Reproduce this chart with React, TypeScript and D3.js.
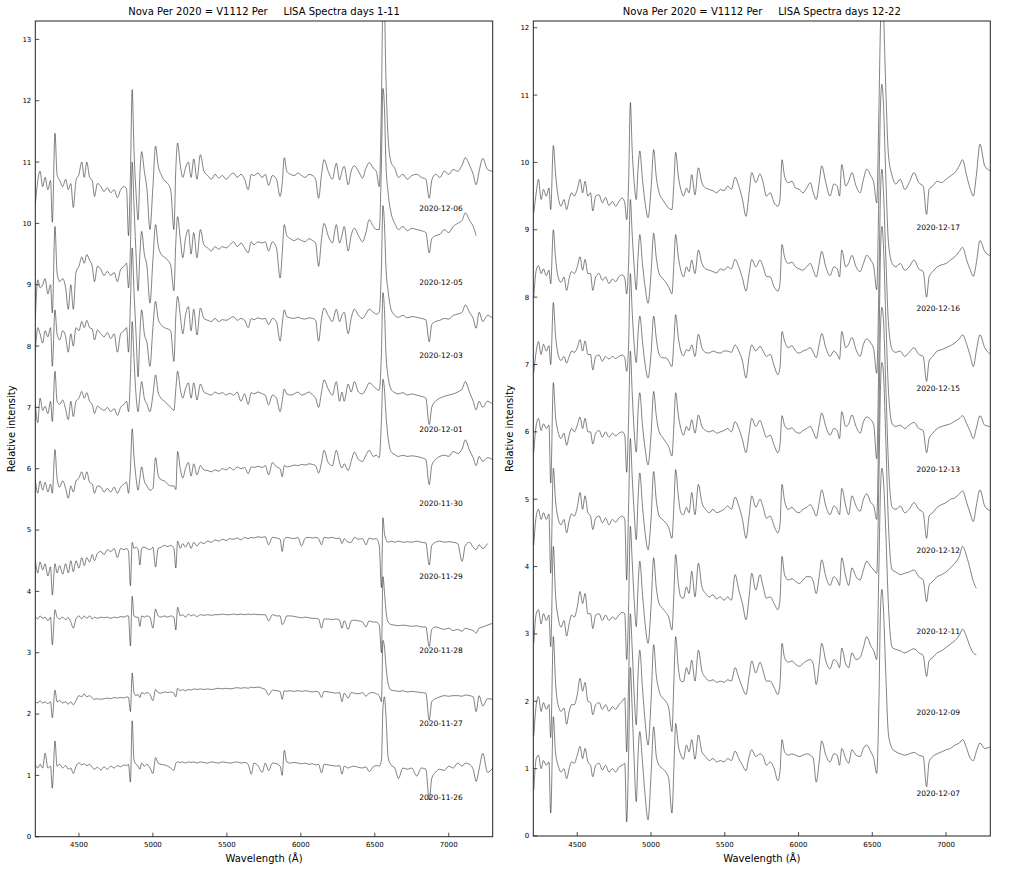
import React from 'react';
import * as d3 from 'd3';

// common wavelength grid (Angstrom) for every spectrum
const wavelength = [
  4205,4222,4237,4255,4271,4290,4308,4320,4338,4352,
  4370,4390,4410,4428,4445,4462,4480,4500,4519,4536,
  4553,4572,4590,4605,4625,4648,4670,4692,4715,4738,
  4760,4782,4805,4822,4835,4848,4860,4872,4886,4900,
  4912,4924,4942,4960,4980,5000,5018,5035,5055,5078,
  5100,5120,5142,5155,5167,5185,5202,5220,5240,5258,
  5276,5298,5321,5345,5370,5395,5420,5445,5470,5495,
  5520,5545,5570,5595,5620,5644,5665,5683,5710,5739,
  5760,5782,5808,5835,5860,5874,5888,5905,5930,5955,
  5980,6005,6030,6055,6080,6100,6120,6140,6157,6185,
  6213,6240,6262,6278,6293,6320,6340,6362,6390,6417,
  6440,6462,6490,6510,6530,6545,6555,6565,6575,6590,
  6610,6635,6660,6690,6720,6750,6783,6815,6845,6868,
  6885,6910,6940,6970,7000,7030,7060,7090,7112,7140,
  7165,7185,7205,7230,7262,7297,
];

// ---- days 1-11 ----
const nov26 = [
  1.17,1.12,1.18,1.12,1.36,1.12,1.15,0.79,1.56,1.15,
  1.18,1.12,1.16,1.1,1.12,1.03,1.15,1.2,1.17,1.19,
  1.16,1.18,1.13,1.1,1.13,1.09,1.14,1.1,1.15,1.12,
  1.16,1.14,1.17,1.16,1.18,0.89,1.89,1.25,1.18,1.15,
  1.1,1.2,1.15,1.18,1.12,1.03,1.29,1.2,1.18,1.17,
  1.15,1.12,1.08,1.2,1.22,1.21,1.22,1.2,1.22,1.21,
  1.22,1.2,1.22,1.21,1.2,1.22,1.21,1.2,1.22,1.21,
  1.2,1.21,1.22,1.2,1.21,1.18,1.02,1.2,1.16,1.05,
  1.2,1.08,1.2,1.19,1.15,1.0,1.41,1.22,1.2,1.21,
  1.2,1.19,1.2,1.18,1.19,1.17,1.18,1.04,1.18,1.17,
  1.16,1.15,1.16,1.02,1.15,1.12,1.14,1.15,1.13,1.12,
  1.14,1.06,1.14,1.16,1.15,1.25,2.1,2.28,1.99,1.3,
  1.17,1.12,0.95,1.12,1.1,1.12,0.99,1.12,1.1,0.6,
  0.95,1.05,1.1,1.08,1.15,1.12,1.2,1.15,1.2,1.18,
  1.1,0.9,1.1,1.36,1.05,1.12,
];
const nov27 = [
  2.2,2.18,2.22,2.18,2.2,2.17,2.2,1.94,2.39,2.2,
  2.22,2.18,2.2,2.16,2.2,2.15,2.22,2.3,2.28,2.33,
  2.28,2.3,2.26,2.24,2.25,2.24,2.25,2.26,2.25,2.27,
  2.26,2.27,2.26,2.28,2.27,2.04,2.67,2.35,2.3,2.32,
  2.27,2.35,2.33,2.35,2.32,2.22,2.4,2.35,2.34,2.36,
  2.35,2.36,2.34,2.28,2.42,2.38,2.4,2.38,2.4,2.39,
  2.41,2.4,2.41,2.4,2.41,2.4,2.41,2.42,2.41,2.42,
  2.41,2.42,2.43,2.42,2.43,2.42,2.44,2.43,2.44,2.42,
  2.4,2.31,2.39,2.38,2.37,2.24,2.38,2.37,2.38,2.37,
  2.38,2.37,2.38,2.37,2.36,2.37,2.36,2.27,2.37,2.36,
  2.35,2.34,2.35,2.2,2.34,2.26,2.35,2.34,2.33,2.35,
  2.29,2.34,2.35,2.33,2.3,2.2,3.2,3.1,2.8,2.5,
  2.39,2.38,2.37,2.38,2.36,2.37,2.36,2.35,2.34,1.9,
  2.2,2.25,2.28,2.3,2.29,2.3,2.3,2.29,2.31,2.3,
  2.28,2.04,2.3,2.13,2.25,2.24,
];
const nov28 = [
  3.59,3.55,3.6,3.56,3.58,3.52,3.58,3.13,3.7,3.58,
  3.55,3.58,3.54,3.57,3.5,3.4,3.55,3.6,3.55,3.6,
  3.56,3.6,3.55,3.58,3.56,3.58,3.57,3.58,3.56,3.58,
  3.57,3.59,3.58,3.6,3.6,3.11,3.92,3.6,3.58,3.58,
  3.43,3.6,3.58,3.6,3.58,3.4,3.71,3.6,3.58,3.6,
  3.58,3.6,3.58,3.37,3.74,3.6,3.62,3.58,3.63,3.6,
  3.62,3.59,3.62,3.61,3.62,3.61,3.62,3.62,3.63,3.62,
  3.62,3.63,3.62,3.63,3.62,3.63,3.62,3.63,3.62,3.62,
  3.62,3.52,3.62,3.6,3.6,3.46,3.5,3.6,3.6,3.59,
  3.58,3.57,3.58,3.57,3.56,3.56,3.55,3.4,3.55,3.55,
  3.54,3.55,3.53,3.4,3.52,3.38,3.52,3.53,3.52,3.5,
  3.42,3.52,3.5,3.5,3.45,3.0,4.24,4.0,3.7,3.5,
  3.46,3.45,3.44,3.45,3.44,3.43,3.44,3.42,3.42,3.1,
  3.38,3.42,3.4,3.38,3.4,3.36,3.38,3.35,3.4,3.38,
  3.36,3.32,3.4,3.42,3.45,3.48,
];
const nov29 = [
  4.51,4.3,4.48,4.35,4.45,4.25,4.4,3.94,4.45,4.3,
  4.42,4.28,4.45,4.3,4.5,4.32,4.5,4.38,4.55,4.42,
  4.55,4.48,4.6,4.5,4.62,4.65,4.6,4.68,4.65,4.7,
  4.55,4.7,4.68,4.7,4.65,4.09,4.8,4.7,4.72,4.68,
  4.43,4.7,4.72,4.7,4.68,4.72,4.4,4.7,4.72,4.75,
  4.73,4.75,4.7,4.38,4.82,4.7,4.78,4.72,4.8,4.7,
  4.8,4.74,4.8,4.78,4.82,4.8,4.84,4.82,4.85,4.83,
  4.86,4.85,4.87,4.84,4.88,4.86,4.88,4.87,4.89,4.88,
  4.89,4.76,4.88,4.87,4.85,4.65,4.85,4.88,4.87,4.86,
  4.88,4.74,4.87,4.88,4.87,4.88,4.86,4.76,4.88,4.87,
  4.88,4.86,4.87,4.78,4.86,4.8,4.8,4.88,4.85,4.86,
  4.76,4.87,4.85,4.86,4.75,4.06,5.2,4.95,4.85,4.8,
  4.82,4.8,4.82,4.8,4.81,4.8,4.82,4.8,4.79,4.43,
  4.75,4.8,4.82,4.8,4.81,4.8,4.78,4.49,4.75,4.8,
  4.72,4.68,4.76,4.7,4.78,null,
];
const nov30 = [
  5.82,5.6,5.8,5.65,5.78,5.62,5.75,5.6,6.31,5.85,
  5.7,5.8,5.68,5.52,5.72,5.62,5.8,5.85,5.95,5.82,
  5.95,5.78,5.75,5.6,5.72,5.7,5.62,5.68,5.62,5.7,
  5.6,5.7,5.75,5.78,5.6,6.0,6.65,6.2,5.85,5.65,
  5.85,6.03,5.8,5.72,5.65,5.68,6.18,5.9,5.82,5.8,
  5.75,5.72,5.72,5.66,6.28,6.0,5.85,6.0,6.1,5.88,
  6.08,5.9,6.05,5.98,5.97,5.95,5.98,5.96,6.0,5.98,
  6.02,5.98,6.03,6.0,6.02,5.92,6.03,6.02,6.04,6.02,
  6.05,5.9,6.1,6.03,6.0,5.87,6.05,6.03,6.04,6.06,
  6.05,6.07,6.06,6.08,6.07,6.05,5.93,6.1,6.3,6.1,
  6.05,6.3,6.1,6.01,6.08,5.97,6.12,6.27,6.15,6.12,
  6.22,6.3,6.2,6.22,6.18,6.8,7.46,7.3,6.9,6.5,
  6.28,6.23,6.2,6.22,6.2,6.21,6.2,6.18,6.15,5.74,
  6.05,6.15,6.2,6.22,6.2,6.28,6.25,6.32,6.47,6.3,
  6.18,6.05,6.2,6.12,6.18,6.15,
];
const dec01 = [
  7.07,6.75,7.15,6.95,7.02,6.9,7.1,6.77,7.59,7.1,
  7.05,7.12,6.97,6.8,7.1,6.85,7.1,7.15,7.26,7.15,
  7.24,7.1,7.05,6.9,7.02,6.98,6.95,7.0,6.93,6.98,
  6.87,7.0,7.05,7.1,6.93,7.5,8.4,7.8,7.2,6.93,
  7.2,7.42,7.15,7.05,6.93,7.2,7.53,7.25,7.15,7.1,
  7.05,7.0,6.95,7.3,7.59,7.3,7.15,7.3,7.4,7.15,
  7.4,7.12,7.38,7.25,7.22,7.2,7.25,7.22,7.24,7.2,
  7.23,7.2,7.25,7.1,7.22,7.05,7.24,7.22,7.25,7.22,
  7.2,7.04,7.2,7.15,6.93,7.1,7.3,7.22,7.2,7.22,
  7.25,7.2,7.22,7.25,7.2,7.15,7.0,7.25,7.45,7.3,
  7.2,7.42,7.1,7.25,7.1,7.38,7.25,7.42,7.25,7.22,
  7.3,7.4,7.35,7.3,7.28,7.9,8.87,8.6,7.9,7.5,
  7.3,7.24,7.22,7.24,7.2,7.22,7.2,7.18,7.15,6.72,
  7.0,7.1,7.15,7.18,7.2,7.22,7.25,7.3,7.42,7.25,
  7.1,6.96,7.1,7.0,7.1,7.05,
];
const dec03 = [
  7.89,8.3,8.2,8.05,8.25,8.15,8.3,7.67,8.59,8.2,
  8.1,8.25,8.15,7.9,8.2,8.0,8.3,8.25,8.4,8.3,
  8.42,8.3,8.28,8.1,8.26,8.2,8.15,8.22,8.12,8.2,
  7.9,8.2,8.25,8.3,7.9,8.7,9.6,8.9,8.2,7.5,
  8.2,8.59,8.2,8.05,7.67,8.3,8.73,8.45,8.35,8.3,
  8.28,8.25,7.75,8.5,8.81,8.5,8.2,8.5,8.64,8.25,
  8.6,8.18,8.62,8.45,8.42,8.4,8.45,8.4,8.43,8.42,
  8.45,8.48,8.42,8.45,8.42,8.3,8.45,8.43,8.46,8.44,
  8.45,8.35,8.45,8.4,8.08,8.35,8.59,8.48,8.46,8.45,
  8.47,8.45,8.44,8.46,8.45,8.42,8.08,8.45,8.62,8.5,
  8.4,8.6,8.4,8.5,8.55,8.2,8.45,8.6,8.5,8.45,
  8.52,8.6,8.55,8.52,8.55,9.3,10.29,10.0,9.3,8.9,
  8.6,8.5,8.47,8.5,8.46,8.48,8.47,8.45,8.43,8.07,
  8.35,8.4,8.42,8.45,8.44,8.5,8.52,8.55,8.67,8.55,
  8.45,8.29,8.55,8.4,8.5,8.45,
];
const dec05 = [
  8.43,9.08,8.95,9.0,9.1,8.85,9.0,8.54,9.95,9.2,
  9.05,9.1,8.95,8.6,9.0,8.6,9.2,9.3,9.45,9.35,
  9.49,9.4,9.3,9.05,9.3,9.25,9.15,9.22,9.15,9.2,
  9.05,9.25,9.3,9.35,8.95,9.6,11.0,10.3,9.5,8.9,
  9.5,9.87,9.5,9.3,8.7,9.4,9.98,9.65,9.5,9.45,
  9.4,9.32,8.9,9.7,10.11,9.75,9.44,9.75,9.9,9.5,
  9.85,9.44,9.9,9.65,9.6,9.55,9.62,9.58,9.62,9.6,
  9.65,9.7,9.62,9.68,9.6,9.52,9.7,9.65,9.7,9.68,
  9.7,9.55,9.7,9.6,9.11,9.5,9.98,9.8,9.75,9.72,
  9.75,9.72,9.7,9.75,9.72,9.68,9.3,9.75,10.0,9.8,
  9.68,9.98,9.68,9.8,9.95,9.55,9.8,9.92,9.8,9.7,
  9.85,10.06,9.95,9.9,9.9,11.0,12.2,11.9,11.0,10.5,
  10.17,10.0,9.9,9.95,9.88,9.92,9.9,9.88,9.85,9.52,
  9.75,9.8,9.82,9.9,9.85,9.95,10.0,10.05,10.17,10.05,
  9.95,9.8,null,null,null,null,
];
const dec06 = [
  10.3,10.7,10.85,10.6,10.75,10.55,10.7,10.02,11.47,10.8,
  10.7,10.6,10.72,10.55,10.65,10.26,10.7,10.8,11.0,10.75,
  11.0,10.75,10.7,10.44,10.65,10.6,10.52,10.58,10.5,10.55,
  10.42,10.55,10.6,10.55,9.8,10.8,12.18,11.2,10.5,10.06,
  10.8,11.17,10.85,10.55,9.9,10.6,11.26,10.95,10.8,10.7,
  10.65,10.55,9.9,10.9,11.31,10.95,10.75,10.9,11.0,10.75,
  11.05,10.72,11.12,10.85,10.78,10.72,10.8,10.74,10.78,10.72,
  10.78,10.82,10.75,10.8,10.72,10.55,10.8,10.78,10.82,10.75,
  10.8,10.62,10.78,10.72,10.44,10.65,11.07,10.85,10.8,10.78,
  10.82,10.78,10.75,10.8,10.78,10.72,10.41,10.8,11.04,10.85,
  10.72,10.98,10.71,10.85,10.93,10.63,10.85,10.94,10.85,10.74,
  10.9,10.99,10.9,10.85,10.6,12.0,13.6,13.5,12.4,11.4,
  11.0,10.9,10.75,10.8,10.72,10.78,10.8,10.75,10.72,10.41,
  10.7,10.8,10.75,10.85,10.8,10.88,10.85,10.95,11.07,10.95,
  10.8,10.63,10.85,11.06,10.88,10.85,
];

// ---- days 12-22 ----
const dec07 = [
  0.68,1.15,1.2,1.0,1.12,1.05,1.1,0.34,1.77,1.25,
  1.05,0.95,1.0,0.85,1.0,1.1,1.08,1.2,1.33,1.15,
  1.3,1.1,1.05,0.88,1.05,1.08,0.98,1.05,0.95,1.0,
  0.95,1.02,1.05,1.08,0.21,1.2,2.5,1.9,1.1,0.51,
  1.2,1.55,1.1,0.6,0.24,0.9,1.62,1.2,1.05,1.0,
  0.95,0.85,0.34,1.0,1.67,1.35,1.2,1.14,1.35,1.25,
  1.43,1.14,1.5,1.25,1.18,1.12,1.15,1.1,1.12,1.1,
  1.15,1.12,1.26,1.15,1.05,0.97,1.18,1.28,1.18,1.22,
  1.18,1.05,1.1,1.0,0.82,0.95,1.43,1.25,1.2,1.22,
  1.2,1.18,1.2,1.22,1.2,1.15,0.8,1.1,1.41,1.2,
  1.1,1.22,1.2,1.05,1.3,1.15,1.08,1.28,1.2,1.18,
  1.3,1.35,1.25,1.15,0.93,2.0,3.3,3.66,3.4,2.5,
  1.5,1.3,1.25,1.22,1.2,1.22,1.24,1.2,1.18,0.73,
  1.1,1.18,1.22,1.25,1.28,1.3,1.35,1.38,1.43,1.3,
  1.15,1.12,1.25,1.38,1.3,1.32,
];
const dec09 = [
  1.48,1.95,2.07,1.85,1.98,1.88,1.95,1.46,2.96,2.3,
  1.95,1.85,1.9,1.66,1.85,1.95,1.95,2.1,2.34,2.15,
  2.28,2.0,1.98,1.8,1.95,1.98,1.88,1.95,1.85,1.92,
  1.88,1.95,2.0,2.05,1.25,2.3,3.3,2.8,2.1,1.65,
  2.4,2.76,2.2,1.7,1.35,2.0,2.84,2.4,2.15,2.05,
  2.0,1.9,1.55,2.3,2.96,2.5,2.3,2.29,2.5,2.4,
  2.61,2.3,2.76,2.45,2.35,2.3,2.32,2.28,2.3,2.28,
  2.32,2.3,2.5,2.35,2.2,2.1,2.38,2.6,2.42,2.58,
  2.45,2.3,2.3,2.2,2.1,2.25,2.86,2.65,2.58,2.6,
  2.55,2.52,2.56,2.6,2.62,2.55,2.25,2.55,2.86,2.6,
  2.48,2.62,2.58,2.5,2.79,2.55,2.5,2.72,2.62,2.65,
  2.8,2.96,2.82,2.75,2.62,4.0,5.1,5.46,5.3,4.6,
  3.4,2.8,2.77,2.75,2.72,2.75,2.78,2.72,2.68,2.37,
  2.6,2.65,2.72,2.75,2.8,2.85,2.9,2.98,3.07,2.95,
  2.8,2.72,2.69,null,null,null,
];
const dec11 = [
  2.86,3.3,3.36,3.15,3.3,3.2,3.28,2.81,4.3,3.6,
  3.25,3.1,3.2,2.97,3.15,3.28,3.25,3.4,3.63,3.45,
  3.6,3.3,3.3,3.08,3.28,3.3,3.2,3.28,3.2,3.25,
  3.22,3.28,3.32,3.3,2.62,3.4,4.6,4.1,3.5,3.11,
  3.7,4.08,3.6,3.15,2.86,3.4,4.13,3.7,3.45,3.38,
  3.32,3.25,3.06,3.6,4.18,3.75,3.55,3.53,3.7,3.6,
  3.93,3.55,4.05,3.7,3.6,3.55,3.58,3.52,3.55,3.5,
  3.55,3.5,3.88,3.65,3.45,3.21,3.55,3.9,3.65,3.88,
  3.7,3.53,3.55,3.45,3.36,3.5,4.15,3.88,3.8,3.82,
  3.78,3.75,3.8,3.85,3.85,3.78,3.6,3.85,4.1,3.85,
  3.72,3.85,3.8,3.72,4.13,3.85,3.72,3.98,3.85,3.8,
  3.95,4.08,4.0,3.95,3.9,5.3,6.6,7.03,6.9,6.0,
  4.6,3.95,3.92,3.88,3.9,3.92,3.95,3.85,3.8,3.48,
  3.72,3.78,3.85,3.88,3.92,3.98,4.05,4.15,4.3,4.15,
  3.95,3.78,3.68,null,null,null,
];
const dec12 = [
  4.32,4.75,4.85,4.7,4.8,4.7,4.78,3.9,5.46,5.0,
  4.72,4.62,4.7,4.5,4.68,4.78,4.75,4.88,5.1,4.85,
  5.05,4.8,4.75,4.55,4.72,4.75,4.65,4.72,4.62,4.7,
  4.66,4.72,4.75,4.7,3.8,4.9,5.9,5.35,4.8,4.4,
  5.0,5.39,4.9,4.5,4.25,4.7,5.41,5.0,4.75,4.7,
  4.65,4.58,4.42,4.9,5.44,5.05,4.8,4.77,4.88,4.8,
  5.1,4.77,5.22,4.95,4.85,4.8,4.85,4.8,4.82,4.85,
  4.9,4.85,5.03,4.9,4.7,4.42,4.75,5.05,4.88,5.0,
  4.88,4.72,4.75,4.6,4.5,4.62,5.22,4.98,4.85,4.88,
  4.82,4.8,4.85,4.88,4.92,4.85,4.75,4.95,5.14,4.9,
  4.77,4.9,4.85,4.77,5.16,4.9,4.77,5.05,4.9,4.82,
  5.0,5.08,4.95,4.9,4.7,6.2,7.5,7.85,7.7,6.8,
  5.5,4.88,4.85,4.9,4.8,4.85,4.95,4.85,4.8,4.42,
  4.75,4.8,4.88,4.92,4.95,5.0,5.02,5.08,5.12,4.95,
  4.78,4.67,4.9,5.14,4.9,4.83,
];
const dec13 = [
  5.69,6.1,6.2,6.02,6.12,6.05,6.1,5.24,6.73,6.25,
  6.0,5.9,5.98,5.8,5.95,6.05,6.0,6.1,6.22,6.05,
  6.2,6.0,6.0,5.82,5.98,6.02,5.92,6.0,5.92,5.98,
  5.94,5.98,6.0,5.95,5.4,6.2,7.2,6.6,6.0,5.7,
  6.3,6.58,6.1,5.75,5.51,5.95,6.6,6.25,6.0,5.92,
  5.85,5.78,5.64,6.1,6.58,6.25,6.05,5.95,6.08,6.02,
  6.18,5.98,6.25,6.08,6.02,6.0,6.02,5.98,6.0,6.02,
  6.05,6.0,6.15,6.05,5.88,5.69,5.98,6.2,6.08,6.17,
  6.05,5.92,5.95,5.8,5.69,5.8,6.24,6.1,6.04,6.06,
  6.0,5.98,6.02,6.05,6.08,6.0,5.9,6.1,6.28,6.08,
  5.95,6.05,6.02,5.9,6.3,6.08,6.12,6.25,6.08,5.98,
  6.15,6.22,6.18,6.1,5.6,7.2,8.6,9.05,8.8,7.8,
  6.6,6.12,6.08,6.1,6.05,6.1,6.14,6.05,6.02,5.69,
  5.9,5.98,6.05,6.08,6.1,6.12,6.16,6.2,6.24,6.12,
  6.0,5.9,6.05,6.24,6.1,6.08,
];
const dec15 = [
  6.88,7.2,7.34,7.15,7.3,7.2,7.28,7.0,7.92,7.45,
  7.15,7.06,7.12,7.02,7.12,7.2,7.18,7.25,7.37,7.2,
  7.35,7.15,7.15,6.92,7.12,7.14,7.05,7.12,7.08,7.12,
  7.09,7.12,7.14,7.1,6.9,7.3,8.35,7.8,7.3,7.03,
  7.45,7.72,7.35,7.0,6.8,7.15,7.72,7.4,7.15,7.1,
  7.1,7.05,6.97,7.35,7.74,7.4,7.2,7.13,7.22,7.2,
  7.29,7.12,7.45,7.25,7.18,7.17,7.2,7.18,7.17,7.2,
  7.2,7.18,7.29,7.2,7.05,6.8,7.12,7.29,7.2,7.27,
  7.2,7.12,7.15,6.98,6.85,6.95,7.49,7.35,7.25,7.28,
  7.2,7.17,7.2,7.22,7.25,7.18,7.1,7.3,7.46,7.25,
  7.12,7.2,7.15,7.08,7.49,7.25,7.3,7.4,7.22,7.12,
  7.3,7.38,7.32,7.22,6.87,8.2,9.5,9.9,9.6,8.7,
  7.6,7.22,7.18,7.2,7.12,7.18,7.25,7.15,7.12,6.75,
  7.05,7.12,7.2,7.22,7.25,7.28,7.32,7.38,7.44,7.3,
  7.12,6.97,7.2,7.44,7.25,7.16,
];
const dec16 = [
  8.0,8.4,8.47,8.35,8.42,8.32,8.4,8.2,9.0,8.6,
  8.3,8.22,8.3,8.1,8.28,8.38,8.35,8.45,8.6,8.4,
  8.56,8.35,8.35,8.1,8.3,8.35,8.25,8.3,8.2,8.27,
  8.23,8.3,8.33,8.28,8.05,8.5,9.45,8.95,8.45,8.11,
  8.6,8.93,8.5,8.15,7.91,8.35,8.95,8.6,8.35,8.28,
  8.22,8.15,8.05,8.5,8.93,8.6,8.4,8.3,8.45,8.38,
  8.55,8.35,8.7,8.5,8.42,8.4,8.38,8.36,8.42,8.4,
  8.45,8.42,8.56,8.45,8.28,8.09,8.35,8.56,8.45,8.55,
  8.45,8.31,8.3,8.15,8.09,8.2,8.78,8.6,8.5,8.52,
  8.45,8.42,8.4,8.45,8.5,8.4,8.3,8.5,8.68,8.45,
  8.32,8.45,8.42,8.3,8.7,8.45,8.5,8.62,8.45,8.38,
  8.5,8.62,8.55,8.45,8.11,9.6,10.8,11.16,10.9,9.9,
  8.8,8.5,8.45,8.5,8.4,8.45,8.55,8.42,8.38,8.0,
  8.3,8.38,8.45,8.48,8.5,8.55,8.6,8.68,8.74,8.55,
  8.4,8.31,8.5,8.84,8.68,8.62,
];
const dec17 = [
  9.25,9.55,9.75,9.45,9.6,9.5,9.62,9.3,10.25,9.85,
  9.5,9.35,9.45,9.3,9.45,9.55,9.5,9.6,9.75,9.55,
  9.72,9.5,9.55,9.28,9.5,9.52,9.4,9.48,9.36,9.42,
  9.35,9.42,9.47,9.4,9.15,9.7,10.89,10.2,9.7,9.45,
  9.9,10.17,9.75,9.4,9.18,9.6,10.19,9.8,9.55,9.45,
  9.38,9.32,9.3,9.7,10.15,9.8,9.6,9.5,9.62,9.55,
  9.82,9.52,9.92,9.7,9.62,9.6,9.58,9.55,9.6,9.58,
  9.65,9.6,9.78,9.65,9.45,9.2,9.55,9.85,9.7,9.83,
  9.7,9.5,9.55,9.4,9.35,9.45,10.04,9.8,9.7,9.72,
  9.62,9.6,9.55,9.62,9.7,9.55,9.45,9.7,9.95,9.7,
  9.5,9.68,9.65,9.5,9.97,9.65,9.72,9.85,9.65,9.55,
  9.75,9.9,9.8,9.7,9.4,10.8,12.0,12.6,12.3,11.2,
  10.1,9.8,9.68,9.75,9.6,9.7,9.85,9.7,9.65,9.23,
  9.6,9.65,9.72,9.7,9.75,9.8,9.85,9.95,10.04,9.8,
  9.6,9.5,9.8,10.27,9.95,9.88,
];

const leftSeries = [nov26, nov27, nov28, nov29, nov30, dec01, dec03, dec05, dec06];
const leftDates = ['2020-11-26', '2020-11-27', '2020-11-28', '2020-11-29', '2020-11-30',
  '2020-12-01', '2020-12-03', '2020-12-05', '2020-12-06'];
const rightSeries = [dec07, dec09, dec11, dec12, dec13, dec15, dec16, dec17];
const rightDates = ['2020-12-07', '2020-12-09', '2020-12-11', '2020-12-12', '2020-12-13',
  '2020-12-15', '2020-12-16', '2020-12-17'];

// label anchor (wavelength) and label heights, bottom to top
const labelWave = 6800;
const labelLevels = [0.6, 1.8, 3.0, 4.2, 5.4, 6.6, 7.8, 9.0, 10.2];

const xTicks = [4500, 5000, 5500, 6000, 6500, 7000];
const leftYTicks = [0, 1, 2, 3, 4, 5, 6, 7, 8, 9, 10, 11, 12, 13];
const rightYTicks = [0, 1, 2, 3, 4, 5, 6, 7, 8, 9, 10, 11, 12];

const font = 'DejaVu Sans, sans-serif';

interface PanelProps {
  id: string;
  left: number;
  right: number;
  top: number;
  bottom: number;
  xDomain: [number, number];
  yMax: number;
  yTicks: number[];
  series: (number | null)[][];
  dates: string[];
  title: string;
}

const Panel = ({ id, left, right, top, bottom, xDomain, yMax, yTicks, series, dates, title }: PanelProps) => {
  const x = d3.scaleLinear().domain(xDomain).range([left, right]);
  const y = d3.scaleLinear().domain([0, yMax]).range([bottom, top]);
  const line = d3.line<number | null>()
    .defined(v => v != null)
    .x((_, i) => x(wavelength[i]))
    .y(v => y(v as number))
    .curve(d3.curveMonotoneX);
  const cx = (left + right) / 2;

  return (
    <g>
      <defs>
        <clipPath id={id}>
          <rect x={left} y={top} width={right - left} height={bottom - top} />
        </clipPath>
      </defs>
      <g clipPath={`url(#${id})`}>
        {series.map((s, i) => (
          <path key={i} d={line(s) || ''} fill="none" stroke="#1a1a1a" strokeWidth={0.55} strokeLinejoin="round" />
        ))}
      </g>
      {dates.map((d, i) => (
        <text key={d} x={x(labelWave)} y={y(labelLevels[i])} fontSize={7.5} fontFamily={font} fill="#000">{d}</text>
      ))}
      {/* frame */}
      <rect x={left} y={top} width={right - left} height={bottom - top} fill="none" stroke="#222" strokeWidth={1} />
      {/* x ticks (inward) */}
      {xTicks.map(t => (
        <g key={t}>
          <line x1={x(t)} x2={x(t)} y1={bottom} y2={bottom - 4} stroke="#222" strokeWidth={0.8} />
          <text x={x(t)} y={bottom + 10.5} textAnchor="middle" fontSize={7} fontFamily={font}>{t}</text>
        </g>
      ))}
      {/* y ticks (inward) */}
      {yTicks.map(t => (
        <g key={t}>
          <line x1={left} x2={left + 4} y1={y(t)} y2={y(t)} stroke="#222" strokeWidth={0.8} />
          <text x={left - 4} y={y(t)} dy="0.35em" textAnchor="end" fontSize={7} fontFamily={font}>{t}</text>
        </g>
      ))}
      <text x={cx} y={top - 6} textAnchor="middle" fontSize={10} fontFamily={font} style={{ whiteSpace: 'pre' }}>{title}</text>
      <text x={cx} y={bottom + 25.5} textAnchor="middle" fontSize={10} fontFamily={font}>Wavelength (Å)</text>
      <text transform={`translate(${left - 20.5},${(top + bottom) / 2}) rotate(-90)`} textAnchor="middle"
        fontSize={10} fontFamily={font}>Relative intensity</text>
    </g>
  );
};

const App = () => (
  <div style={{ position: 'absolute', left: 0, top: 0 }}>
    <svg width={1020} height={871} style={{ display: 'block', background: '#fff' }}>
      <Panel id="clip-left" left={35.3} right={492.7} top={21} bottom={836.7}
        xDomain={[4205, 7297]} yMax={13.3} yTicks={leftYTicks}
        series={leftSeries} dates={leftDates}
        title="Nova Per 2020 = V1112 Per     LISA Spectra days 1-11" />
      <Panel id="clip-right" left={533.3} right={990.3} top={21} bottom={836}
        xDomain={[4202, 7300]} yMax={12.1} yTicks={rightYTicks}
        series={rightSeries} dates={rightDates}
        title="Nova Per 2020 = V1112 Per     LISA Spectra days 12-22" />
    </svg>
  </div>
);

export default App;
